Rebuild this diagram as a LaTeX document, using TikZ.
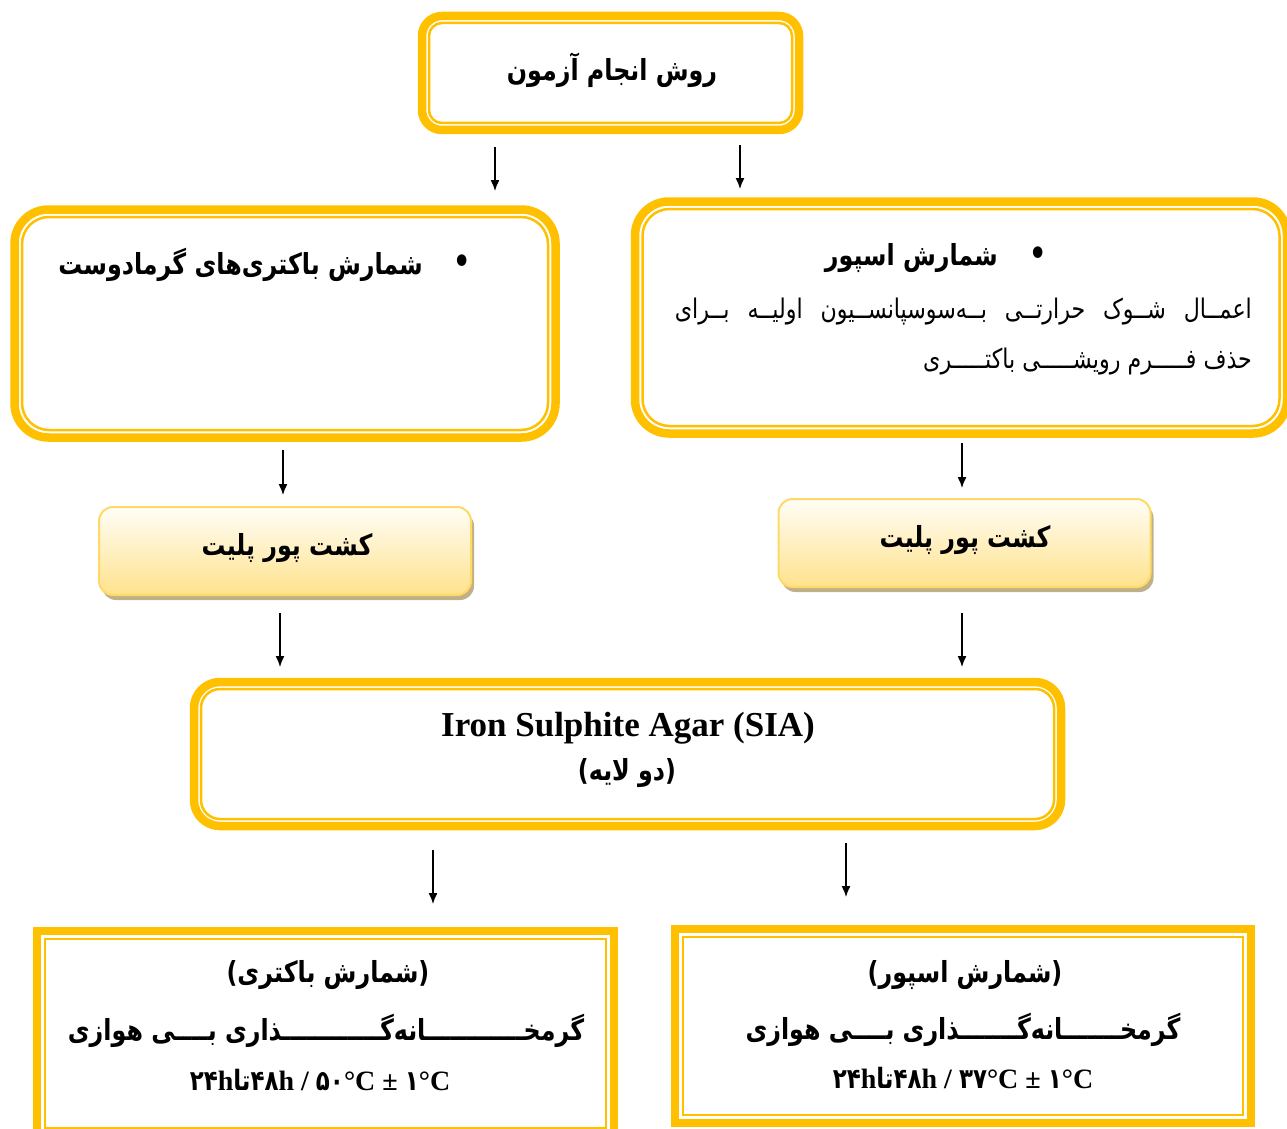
\documentclass[tikz,border=0pt]{standalone}
\usepackage{fontspec}
\usetikzlibrary{arrows.meta,shadows}
\TeXXeTstate=1
\setmainfont{Liberation Serif}
\newfontfamily\fa[Script=Arabic,FakeStretch=0.82,BoldFont={DejaVu Sans Bold}]{DejaVu Sans}
\definecolor{gold}{HTML}{FFC000}
\definecolor{plateedge}{HTML}{FFD966}
\definecolor{platetop}{HTML}{FFFEF7}
\definecolor{platebot}{HTML}{FFE28C}
\definecolor{plateshade}{HTML}{BFB088}
\newcommand{\pd}[1]{\hbox{\fa\bfseries #1}}
% inner thin outline of a frame node, inset by #2
\newcommand{\innerframe}[3]{\draw[goldline=#3] ([xshift=#2,yshift=-#2]#1.north west) rectangle ([xshift=-#2,yshift=#2]#1.south east);}
\begin{document}
\begin{tikzpicture}[x=1pt,y=-1pt,
  goldbox/.style={draw=gold, line width=8.5pt, fill=white, rounded corners=#1, inner sep=0pt, outer sep=0pt},
  goldsq/.style={draw=gold, line width=8pt, fill=white, inner sep=0pt, outer sep=0pt},
  goldline/.style={draw=gold, line width=2.5pt, rounded corners=#1},
  platebox/.style={draw=plateedge, line width=2pt, rounded corners=14pt, top color=platetop, bottom color=platebot,
    minimum width=372pt, minimum height=88pt, inner sep=0pt,
    drop shadow={shadow xshift=3pt, shadow yshift=-5pt, fill=plateshade, opacity=1}},
  flowarrow/.style={-{Latex[length=11pt,width=9pt]}, line width=1.4pt, black},
  title/.style={font=\fa\bfseries\fontsize{29}{34}\selectfont, inner sep=0pt},
  bullet/.style={font=\fa\fontsize{40}{40}\selectfont, inner sep=0pt},
  body/.style={font=\fa\fontsize{27}{32}\selectfont, inner sep=0pt},
  temp/.style={font=\bfseries\fontsize{28}{32}\selectfont, inner sep=0pt}
]
\useasboundingbox (0,0) rectangle (1287,1129);

% main frames
\node[goldbox=20pt, minimum width=377pt, minimum height=114pt] (top) at (610.5,73) {};
\node[goldbox=34pt, minimum width=541pt, minimum height=228pt] (thermo) at (285,323.5) {};
\node[goldbox=34pt, minimum width=652pt, minimum height=232pt] (spore) at (961,317.5) {};
\node[goldbox=26pt, minimum width=867pt, minimum height=144pt] (sia) at (627.5,754) {};
\node[goldsq, minimum width=577pt, minimum height=205pt] (incL) at (325.5,1033.5) {};
\node[goldsq, minimum width=576pt, minimum height=194pt] (incR) at (963,1026) {};

% inner thin outlines
\innerframe{top}{7pt}{13pt}
\innerframe{thermo}{7.5pt}{27pt}
\innerframe{spore}{7.5pt}{27pt}
\innerframe{sia}{7pt}{19pt}
\innerframe{incL}{8pt}{0pt}
\innerframe{incR}{8pt}{0pt}

% pour plate boxes
\node[platebox] (plateL) at (285,551) {};
\node[platebox] (plateR) at (964.5,543) {};

% texts
\node[title] (topT) at (612,70) {\beginR روش انجام آزمون\endR};
\node[bullet] (thermoB) at (462,265) {•};
\node[title, anchor=east] (thermoT) at (423,265) {\beginR شمارش باکتری‌های گرمادوست\endR};
\node[bullet] (sporeB) at (1038,257) {•};
\node[title, anchor=east] (sporeT) at (998,258) {\beginR شمارش اسپور\endR};
\node[body, anchor=east] (sporeL1) at (1252,312) {\hbox to 577pt{\beginR اعمــال\hfil شــوک\hfil حرارتــی\hfil بــه‌سوسپانســیون\hfil اولیــه\hfil بــرای\endR}};
\node[body, anchor=east] (sporeL2) at (1252,362) {\beginR حذف فـــــرم رویشـــــی باکتـــــری\endR};
\node[title] (plateLT) at (287,548) {\beginR کشت پور پلیت\endR};
\node[title] (plateRT) at (965,540) {\beginR کشت پور پلیت\endR};
\node[font=\bfseries\fontsize{35}{40}\selectfont, inner sep=0pt] (siaT) at (628,728) {Iron Sulphite Agar (SIA)};
\node[title] (siaT2) at (627,773) {\beginR (دو لایه)\endR};
\node[title] (incLT1) at (328,975) {\beginR (شمارش باکتری)\endR};
\node[title] (incLT2) at (326,1031) {\beginR گرمخــــــــــــانه‌گــــــــــــذاری بــــی هوازی\endR};
\node[temp] (incLT3) at (320,1080) {\pd{۲۴}h\pd{تا}\pd{۴۸}h / \pd{۵۰}°C ± \pd{۱}°C};
\node[title] (incRT1) at (965,975) {\beginR (شمارش اسپور)\endR};
\node[title] (incRT2) at (963,1030) {\beginR گرمخـــــــانه‌گـــــــذاری بــــی هوازی\endR};
\node[temp] (incRT3) at (963,1078) {\pd{۲۴}h\pd{تا}\pd{۴۸}h / \pd{۳۷}°C ± \pd{۱}°C};

% arrow end points
\coordinate (a1s) at (495,147); \coordinate (a1e) at (495,191);
\coordinate (a2s) at (740,145); \coordinate (a2e) at (740,189);
\coordinate (a3s) at (283,450); \coordinate (a3e) at (283,495);
\coordinate (a4s) at (962,443); \coordinate (a4e) at (962,488);
\coordinate (a5s) at (280,613); \coordinate (a5e) at (280,667);
\coordinate (a6s) at (962,613); \coordinate (a6e) at (962,667);
\coordinate (a7s) at (433,850); \coordinate (a7e) at (433,904);
\coordinate (a8s) at (846,843); \coordinate (a8e) at (846,897);
\foreach \i in {1,...,8} \draw[flowarrow] (a\i s) -- (a\i e);
\end{tikzpicture}
\end{document}
